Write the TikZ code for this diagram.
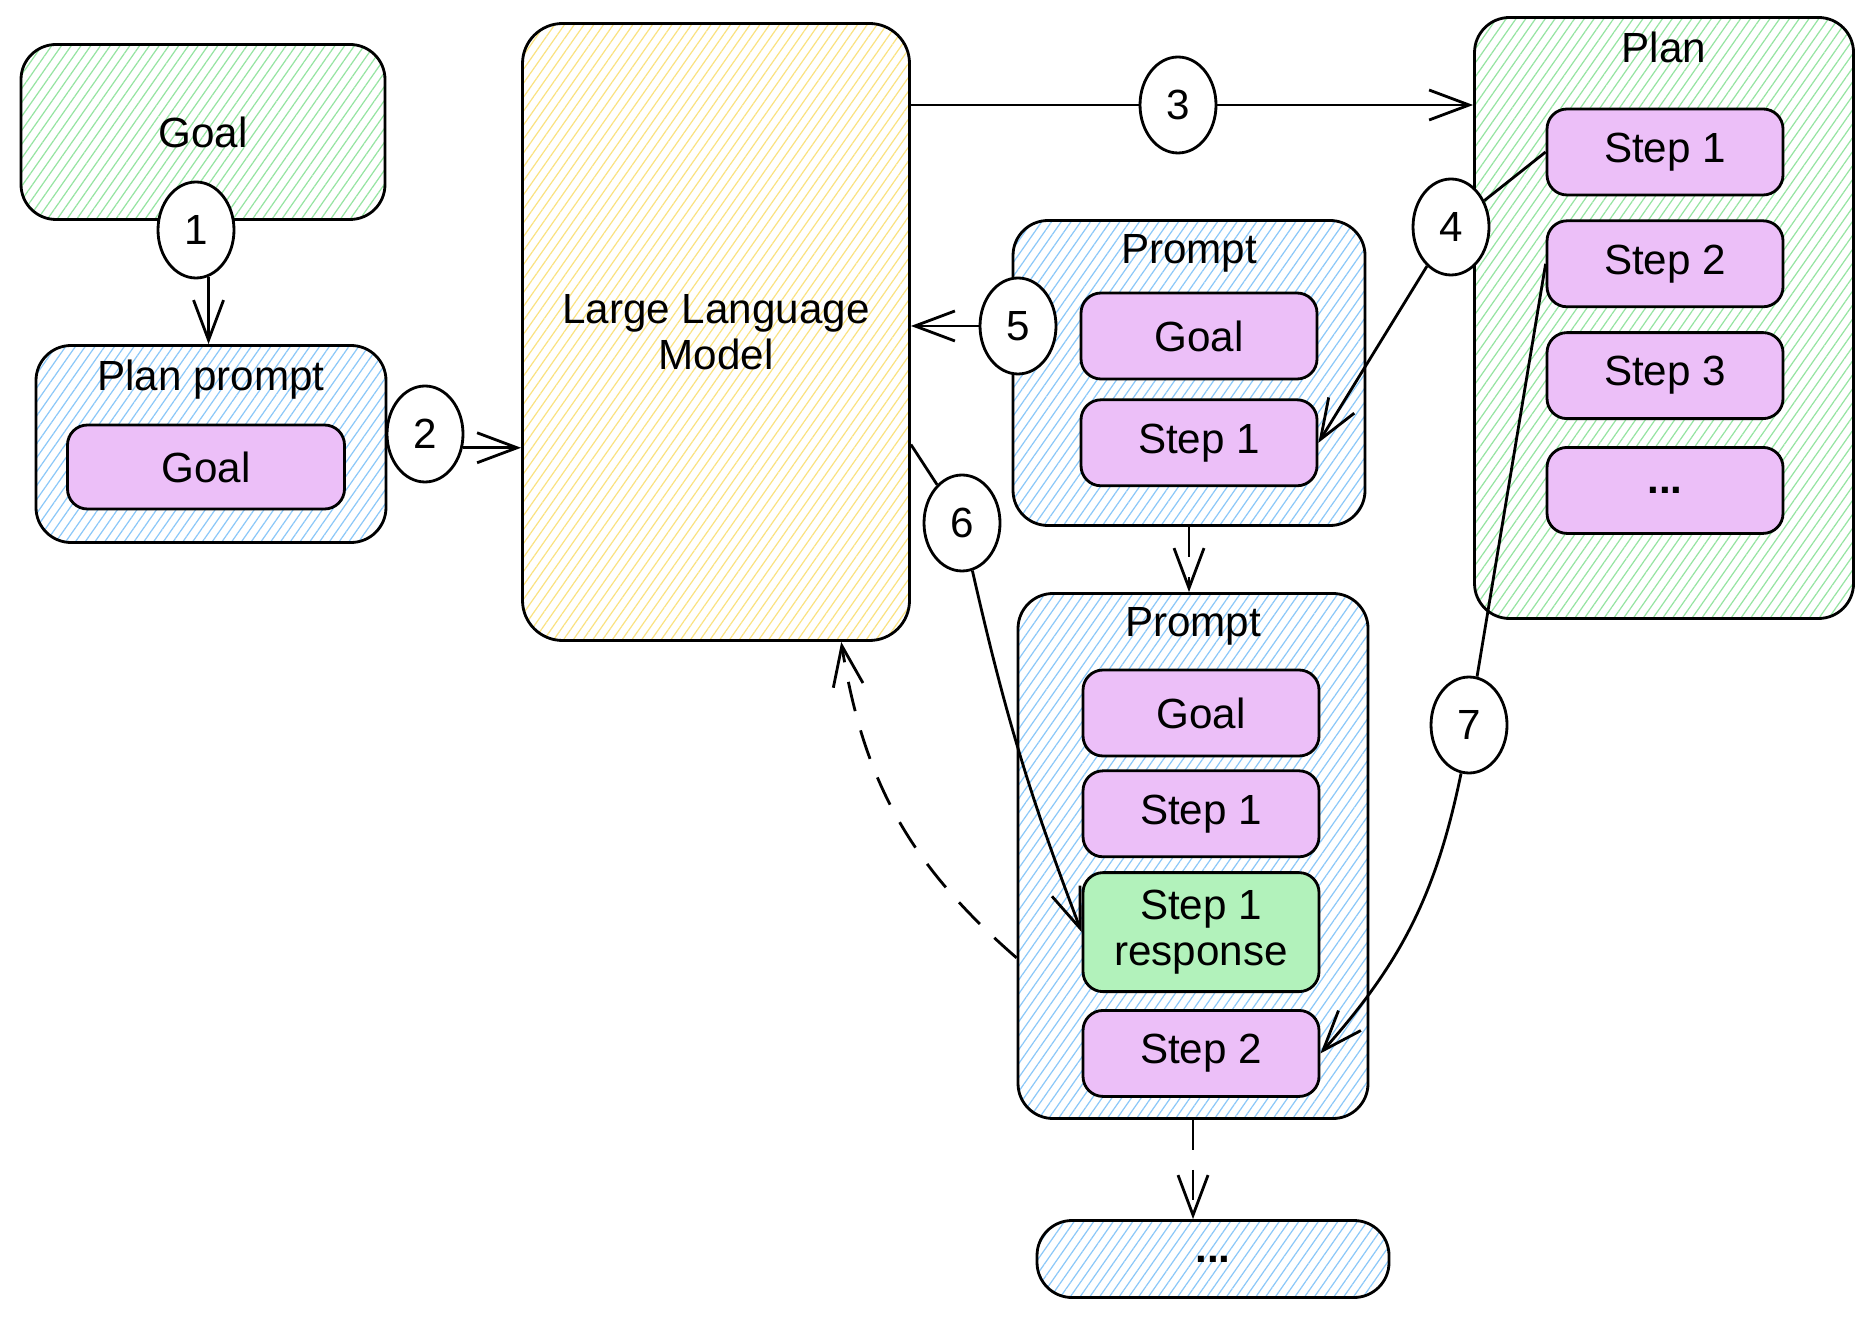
\documentclass[tikz,border=0pt]{standalone}
\usepackage{fontspec}
\setmainfont{Liberation Sans}
\usepackage{tikz}
\usetikzlibrary{shapes.geometric, arrows.meta, positioning, patterns.meta}
\definecolor{hatchGreen}{RGB}{150, 228, 162}
\definecolor{hatchBlue}{RGB}{140, 200, 248}
\definecolor{hatchYellow}{RGB}{250, 226, 130}
\definecolor{stepPink}{RGB}{236, 191, 248}
\definecolor{respGreen}{RGB}{178, 242, 187}
\tikzset{
  hatchbox/.style={
    rectangle, rounded corners=3.5mm,
    draw=black, line width=0.8pt,
    pattern={Lines[angle=55, distance=0.8mm, line width=0.35pt]},
    align=center, font=\fontsize{12}{13}\selectfont
  },
  greenbox/.style={hatchbox, pattern color=hatchGreen},
  bluebox/.style={hatchbox, pattern color=hatchBlue},
  yellowbox/.style={hatchbox, pattern color=hatchYellow, rounded corners=4mm},
  stepnode/.style={
    rectangle, rounded corners=2mm,
    draw=black, line width=0.8pt, fill=stepPink,
    minimum width=23.6mm, minimum height=8.6mm,
    align=center, font=\fontsize{12}{13}\selectfont
  },
  respnode/.style={stepnode, fill=respGreen, minimum height=11.9mm},
  titletext/.style={font=\fontsize{12}{13}\selectfont},
  numnode/.style={
    ellipse, draw=black, fill=white, line width=0.8pt,
    minimum width=7.6mm, minimum height=9.6mm, inner sep=0pt,
    font=\fontsize{12}{13}\selectfont
  },
  flowarrow/.style={
    -{Straight Barb[length=4mm, width=3mm]},
    line width=0.8pt
  },
  dasharrow/.style={flowarrow, dash pattern=on 3mm off 2mm}
}
\begin{document}
\begin{tikzpicture}[x=0.1mm, y=-0.1mm, node distance=2.3mm]
  \useasboundingbox (0,0) rectangle (1873,1319);

  \node[greenbox, minimum width=36.4mm, minimum height=17.5mm] (goal) at (203,132) {Goal};

  \node[bluebox, minimum width=35mm, minimum height=19.7mm] (pp) at (211,444) {};
  \node[titletext, below=0.3mm of pp.north] (pptitle) {Plan prompt};
  \node[stepnode, minimum width=27.7mm, minimum height=8.4mm] (ppgoal) at (206,467) {Goal};

  \node[yellowbox, minimum width=38.7mm, minimum height=61.7mm] (llm) at (716,332) {Large Language\\Model};

  \node[greenbox, minimum width=37.9mm, minimum height=60.1mm] (plan) at (1664,318) {};
  \node[titletext, below=0.3mm of plan.north] (plantitle) {Plan};
  \node[stepnode] (ps1) at (1665,152) {Step 1};
  \node[stepnode, below=of ps1] (ps2) {Step 2};
  \node[stepnode, below=of ps2] (ps3) {Step 3};
  \node[stepnode, below=2.6mm of ps3] (psd) {\textbf{...}};

  \node[bluebox, minimum width=35.2mm, minimum height=30.5mm] (p1) at (1189,373) {};
  \node[titletext, below=0.3mm of p1.north] (p1title) {Prompt};
  \node[stepnode] (p1goal) at (1199,336) {Goal};
  \node[stepnode, below=1.8mm of p1goal] (p1s1) {Step 1};

  \node[bluebox, minimum width=35mm, minimum height=52.5mm] (p2) at (1193,856) {};
  \node[titletext, below=0.3mm of p2.north] (p2title) {Prompt};
  \node[stepnode] (p2goal) at (1201,713) {Goal};
  \node[stepnode, below=1.2mm of p2goal] (p2s1) {Step 1};
  \node[respnode, below=1.3mm of p2s1] (resp) {Step 1\\response};
  \node[stepnode, below=1.6mm of resp] (p2s2) {Step 2};

  \node[bluebox, minimum width=35.2mm, minimum height=7.7mm] (more) at (1213,1259) {\textbf{...}};

  \node[numnode] (c1) at (196,230) {1};
  \node[numnode] (c2) at (425,434) {2};
  \node[numnode] (c3) at (1178,105) {3};
  \node[numnode] (c4) at (1451,227) {4};
  \node[numnode] (c5) at (1018,326) {5};
  \node[numnode] (c6) at (962,523) {6};
  \node[numnode] (c7) at (1469,725) {7};

  \draw[flowarrow] (c1.-75) -- (c1.-75 |- pp.north);
  \draw[flowarrow] (c2.-20) -- (c2.-20 -| llm.west);
  \draw[line width=0.8pt] (llm.east |- c3) -- (c3.west);
  \draw[flowarrow] (c3.east) -- (c3.east -| plan.west);
  \draw[line width=0.8pt] (ps1.west) -- (c4);
  \draw[flowarrow] (c4) -- (p1s1.east);
  \draw[flowarrow] (c5.west) -- (c5.west -| llm.east);
  \draw[line width=0.8pt] (llm.-30) -- (c6);
  \draw[flowarrow] (c6) to[bend right=4] (resp.west);
  \draw[line width=0.8pt] (ps2.west) -- (c7);
  \draw[flowarrow] (c7) to[bend left=15] (p2s2.east);
  \draw[dasharrow] (p1.south) -- (p1.south |- p2.north);
  \draw[dasharrow] (p2.south) -- (p2.south |- more.north);
  \draw[dasharrow] (p2.210) to[bend left=20] (llm.-68);
\end{tikzpicture}
\end{document}
